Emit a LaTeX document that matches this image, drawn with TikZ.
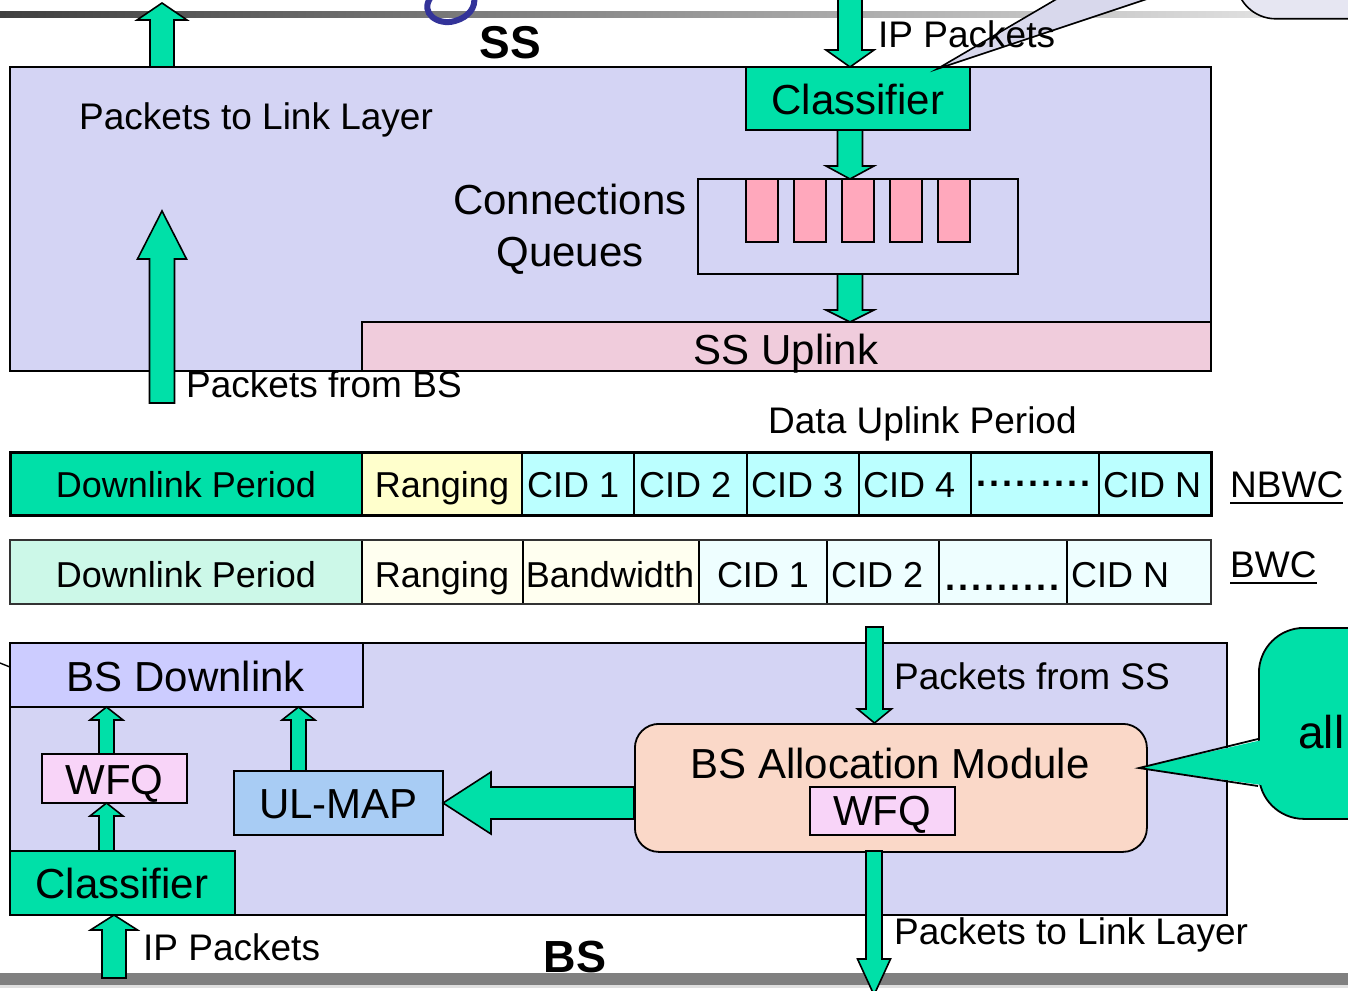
\documentclass[tikz,border=0pt]{standalone}
\usepackage{fontspec}
\setmainfont{Liberation Sans}
\usetikzlibrary{calc}

\definecolor{pktgreen}{HTML}{00E0A8}
\definecolor{sslav}{HTML}{D4D4F4}
\definecolor{dlbox}{HTML}{CCCCFF}
\definecolor{uplinkpink}{HTML}{F0CCDC}
\definecolor{queuepink}{HTML}{FFA8BC}
\definecolor{rangeyel}{HTML}{FFFFCC}
\definecolor{cidcyan}{HTML}{BBFFFF}
\definecolor{bwcmint}{HTML}{CCF8E8}
\definecolor{ivory}{HTML}{FFFFF0}
\definecolor{cidpale}{HTML}{EEFEFF}
\definecolor{ulmapblue}{HTML}{A8CCF4}
\definecolor{allocpeach}{HTML}{FAD8C8}
\definecolor{wfqpink}{HTML}{F8D4F8}
\definecolor{notegrey}{HTML}{D8D8EC}
\definecolor{notepale}{HTML}{E6E6F2}
\definecolor{logoblue}{HTML}{333399}

\tikzset{
  box/.style={draw=black, line width=1.8pt, inner sep=0pt, outer sep=0pt, anchor=north west},
  cellbox/.style={box, line width=1.1pt},
  blockarrow/.style={fill=pktgreen, draw=black, line width=1.6pt, line join=miter},
  big/.style={font=\fontsize{42}{50}\selectfont, inner sep=0pt},
  lbl/.style={font=\fontsize{37}{44}\selectfont, inner sep=0pt},
  cell/.style={font=\fontsize{36}{43}\selectfont, inner sep=0pt},
  heading/.style={font=\fontsize{46}{54}\selectfont\bfseries, inner sep=0pt},
}

% rectangle node given by its corners: name, x1, y1, x2, y2, options
\newcommand\rbox[6]{\node[box,#6,minimum width={(#4-#2)*1pt},minimum height={(#5-#3)*1pt}] (#1) at (#2,#3) {};}

% block arrow: tail, tip, shaft half-width, head half-width, head length
\newcommand\barrow[5]{%
  \path ($(#2)!#5!(#1)$) coordinate (bh);
  \draw[blockarrow] ($(#1)!#3!90:(#2)$) -- ($(bh)!#3!90:(#2)$) -- ($(bh)!#4!90:(#2)$) -- (#2)
     -- ($(bh)!#4!-90:(#2)$) -- ($(bh)!#3!-90:(#2)$) -- ($(#1)!#3!-90:(#2)$) -- cycle;}

% row of dots used as a filler cell
\newcommand\dotrow{\bfseries .\kern3pt.\kern3pt.\kern3pt.\kern3pt.\kern3pt.\kern3pt.\kern3pt.\kern3pt.}

\begin{document}
\begin{tikzpicture}[x=1pt, y=-1pt]
\useasboundingbox (0,0) rectangle (1348,990);
\clip (0,0) rectangle (1348,990);

% title bar and logo fragment
\shade[left color=black!75, right color=black!8] (0,12) rectangle (1348,18);
\draw[logoblue, line width=6pt, line cap=round] (431,-3) .. controls (419,13) and (438,26) .. (455,21) .. controls (469,17) and (476,7) .. (474,-3);

% ================= SS =================
\rbox{ss}{10}{67}{1211}{371}{fill=sslav}
\rbox{upl}{362}{322}{1211}{371}{fill=uplinkpink}
\rbox{qbox}{698}{179}{1018}{274}{}
\foreach \i/\x in {1/746,2/794,3/842,4/890,5/938}
  \rbox{q\i}{\x}{179}{\x+32}{242}{fill=queuepink};
\rbox{cls1}{746}{67}{970}{130}{fill=pktgreen}

\node[heading, anchor=base] (sslbl) at (510,59) {SS};
\node[lbl, anchor=base west] (toll1) at (79,129) {Packets to Link Layer};
\node[big, anchor=base] (cls1t) at (858,114) {Classifier};
\node[big, anchor=base] (connt) at (570,214) {Connections};
\node[big, anchor=base] (queut) at (570,266) {Queues};
\node[big, anchor=base] (uplt) at (786,364) {SS Uplink};
\node[lbl, anchor=base west] (fbs) at (186,397) {Packets from BS};

% outgoing packets to the link layer
\coordinate (linkout) at (162,3);
\coordinate (linkin) at (162,67);
\barrow{linkin}{linkout}{12pt}{25pt}{17pt}

% incoming IP packets
\coordinate (ipin) at (850,-4);
\coordinate (ipcls) at (850,67);
\barrow{ipin}{ipcls}{12pt}{24pt}{17pt}
\coordinate (clsout) at (850,130);
\coordinate (qin) at (850,179);
\barrow{clsout}{qin}{12.5pt}{24pt}{13pt}
\coordinate (qout) at (850,274);
\coordinate (uplin) at (850,322);
\barrow{qout}{uplin}{12.5pt}{24pt}{12pt}

% packets arriving from BS
\coordinate (fromBS) at (162,403);
\coordinate (fromBStip) at (162,211);
\barrow{fromBS}{fromBStip}{12.5pt}{24.5pt}{48pt}

% note pointing at the classifier
\node[draw=black, line width=1.6pt, fill=notepale, rounded corners=40pt, minimum width=200pt, minimum height=78pt, anchor=north west] (topnote) at (1235,-60) {};
\coordinate (clsnote) at (937,69);
\filldraw[fill=notegrey, draw=black, line width=1.6pt, line join=miter] (clsnote) -- (1072,-10) -- (1174,-10) -- cycle;
\node[lbl, anchor=base west] (ipl1) at (878,48) {IP Packets};

% ================= frame rows =================
\node[lbl, anchor=base west] (dup) at (768,433) {Data Uplink Period};

\rbox{r1dl}{10}{452}{362}{515}{cellbox, fill=pktgreen}
\rbox{r1rg}{362}{452}{522}{515}{cellbox, fill=rangeyel}
\rbox{r1c1}{522}{452}{634}{515}{cellbox, fill=cidcyan}
\rbox{r1c2}{634}{452}{747}{515}{cellbox, fill=cidcyan}
\rbox{r1c3}{747}{452}{859}{515}{cellbox, fill=cidcyan}
\rbox{r1c4}{859}{452}{971}{515}{cellbox, fill=cidcyan}
\rbox{r1dt}{971}{452}{1099}{515}{cellbox, fill=cidcyan}
\rbox{r1cn}{1099}{452}{1211}{515}{cellbox, fill=cidcyan}
\draw[line width=3pt] (r1dl.north west) rectangle (r1cn.south east);

\node[cell, anchor=base] (r1dlt) at (186,497) {Downlink Period};
\node[cell, anchor=base] (r1rgt) at (442,497) {Ranging};
\node[cell, anchor=base west] (r1c1t) at (527,497) {CID 1};
\node[cell, anchor=base west] (r1c2t) at (639,497) {CID 2};
\node[cell, anchor=base west] (r1c3t) at (751,497) {CID 3};
\node[cell, anchor=base west] (r1c4t) at (863,497) {CID 4};
\node[cell, anchor=base west] (r1dtt) at (976,486) {\dotrow};
\node[cell, anchor=base west] (r1cnt) at (1103,497) {CID N};
\node[lbl, anchor=base west] (nbwc) at (1230,497) {NBWC};
\draw[line width=2pt] ([yshift=-6pt]nbwc.base west) -- ([yshift=-6pt]nbwc.base east);

\rbox{r2dl}{10}{540}{362}{604}{cellbox, fill=bwcmint}
\rbox{r2rg}{362}{540}{523}{604}{cellbox, fill=ivory}
\rbox{r2bw}{523}{540}{699}{604}{cellbox, fill=ivory}
\rbox{r2c1}{699}{540}{827}{604}{cellbox, fill=cidpale}
\rbox{r2c2}{827}{540}{939}{604}{cellbox, fill=cidpale}
\rbox{r2dt}{939}{540}{1067}{604}{cellbox, fill=cidpale}
\rbox{r2cn}{1067}{540}{1211}{604}{cellbox, fill=cidpale}
\draw[line width=2pt, draw=black!80] (r2dl.north west) rectangle (r2cn.south east);

\node[cell, anchor=base] (r2dlt) at (186,587) {Downlink Period};
\node[cell, anchor=base] (r2rgt) at (442,587) {Ranging};
\node[cell, anchor=base] (r2bwt) at (610,587) {Bandwidth};
\node[cell, anchor=base] (r2c1t) at (763,587) {CID 1};
\node[cell, anchor=base west] (r2c2t) at (831,587) {CID 2};
\node[cell, anchor=base west] (r2dtt) at (945,590) {\dotrow};
\node[cell, anchor=base west] (r2cnt) at (1071,587) {CID N};
\node[lbl, anchor=base west] (bwc) at (1230,577) {BWC};
\draw[line width=2pt] ([yshift=-6pt]bwc.base west) -- ([yshift=-6pt]bwc.base east);

% ================= BS =================
\draw[line width=1.4pt] (0,663) -- (10,667);
\rbox{bs}{10}{643}{1227}{915}{fill=sslav}
\rbox{bsdl}{10}{643}{363}{707}{fill=dlbox}
\rbox{wfq1}{42}{754}{187}{803}{fill=wfqpink}
\rbox{ulmap}{234}{771}{443}{835}{fill=ulmapblue}
\rbox{cls2}{10}{851}{235}{915}{fill=pktgreen}
\node[draw=black, line width=1.8pt, fill=allocpeach, rounded corners=24pt, minimum width=512pt, minimum height=128pt, anchor=north west, inner sep=0pt] (alloc) at (634,723) {};
\rbox{wfq2}{810}{787}{955}{835}{fill=wfqpink}

\node[big, anchor=base] (bsdlt) at (186,691) {BS Downlink};
\node[big, anchor=base] (wfq1t) at (114.5,794) {WFQ};
\node[big, anchor=base] (ulmapt) at (338.5,818) {UL-MAP};
\node[big, anchor=base] (cls2t) at (122,898) {Classifier};
\node[big, anchor=base] (alloct) at (890,778) {BS Allocation Module};
\node[big, anchor=base] (wfq2t) at (882,825) {WFQ};

% internal BS flows
\coordinate (wcol1) at (106.5,754);
\coordinate (wcol2) at (106.5,707);
\barrow{wcol1}{wcol2}{7.5pt}{16.5pt}{13pt}
\coordinate (wcol3) at (106.5,851);
\coordinate (wcol4) at (106.5,803);
\barrow{wcol3}{wcol4}{7.5pt}{16.5pt}{13pt}
\coordinate (ucol1) at (298.5,771);
\coordinate (ucol2) at (298.5,707);
\barrow{ucol1}{ucol2}{7.5pt}{16.5pt}{13pt}
\coordinate (allocw) at (634,803);
\barrow{allocw}{ulmap.east}{16pt}{31pt}{48pt}

% packets from SS
\coordinate (fromSS) at (874.5,627);
\coordinate (fromSStip) at (874.5,723);
\barrow{fromSS}{fromSStip}{8.5pt}{17pt}{14pt}
\node[lbl, anchor=base west] (fss) at (894,689) {Packets from SS};

% bottom bar
\fill[black!50] (0,973) rectangle (1348,985);
\fill[black!12] (0,985) rectangle (1348,988);

% packets to link layer
\coordinate (allocs) at (874,851);
\coordinate (tolink) at (874,995);
\barrow{allocs}{tolink}{8pt}{16.5pt}{36pt}
\node[lbl, anchor=base west] (toll2) at (894,944) {Packets to Link Layer};

% IP packets into BS
\coordinate (ipin2) at (114,978);
\coordinate (ipcls2) at (114,915);
\barrow{ipin2}{ipcls2}{12pt}{23.5pt}{15pt}
\node[lbl, anchor=base west] (ipl2) at (143,960) {IP Packets};
\node[font=\fontsize{45}{54}\selectfont\bfseries, inner sep=0pt, anchor=base] (bslbl) at (575,972) {BS};

% note pointing at the allocation module
\node[draw=black, line width=1.8pt, fill=pktgreen, rounded corners=45pt, minimum width=200pt, minimum height=191pt, anchor=north west] (allnote) at (1258,627) {};
\coordinate (notetip) at (1139,768);
\fill[pktgreen] (1262,740) -- (notetip) -- (1262,785) -- cycle;
\draw[line width=1.8pt, line join=miter] (1258,739) -- (notetip) -- (1258,786);
\node[font=\fontsize{46}{54}\selectfont, inner sep=0pt, anchor=base west] (allt) at (1298,748) {all};

\end{tikzpicture}
\end{document}
